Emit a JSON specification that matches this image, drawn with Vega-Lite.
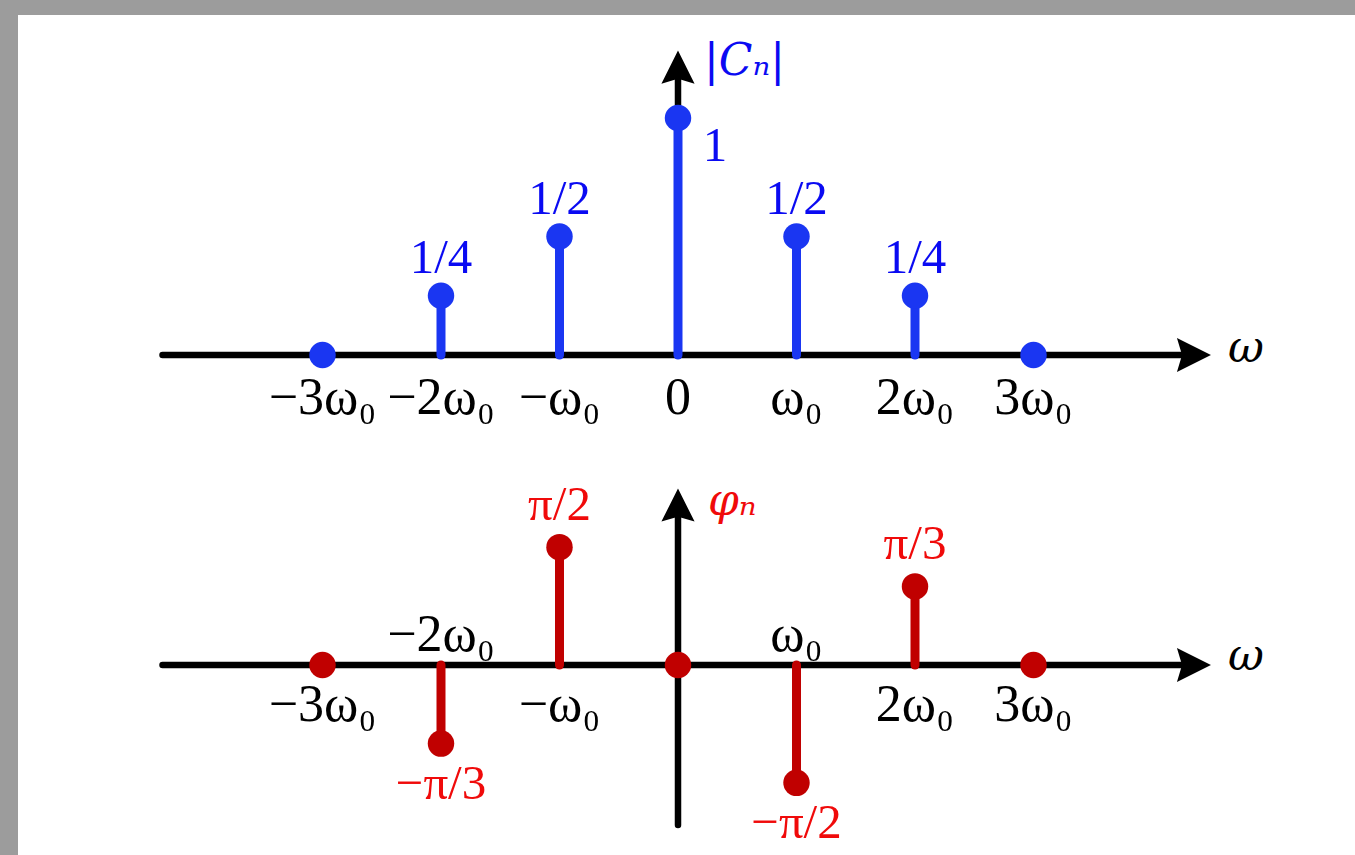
{
  "$schema": "https://vega.github.io/schema/vega-lite/v6.json",
  "width": 1355,
  "height": 855,
  "autosize": {"type": "fit", "contains": "padding"},
  "padding": {"left": 18, "top": 15, "right": 0, "bottom": 0},
  "background": "#9c9c9c",
  "config": {
    "view": {"fill": "white", "stroke": null},
    "text": {"font": "Liberation Serif"}
  },
  "datasets": {
    "magnitude": [
      {"n": -3, "c": 0, "tick": "−3ω₀", "label": ""},
      {"n": -2, "c": 0.25, "tick": "−2ω₀", "label": "1/4"},
      {"n": -1, "c": 0.5, "tick": "−ω₀", "label": "1/2"},
      {"n": 0, "c": 1, "tick": "0", "label": "1"},
      {"n": 1, "c": 0.5, "tick": "ω₀", "label": "1/2"},
      {"n": 2, "c": 0.25, "tick": "2ω₀", "label": "1/4"},
      {"n": 3, "c": 0, "tick": "3ω₀", "label": ""}
    ],
    "phase": [
      {"n": -3, "phi": 0, "tick": "−3ω₀", "label": ""},
      {"n": -2, "phi": -1.0472, "tick": "−2ω₀", "label": "−π/3"},
      {"n": -1, "phi": 1.5708, "tick": "−ω₀", "label": "π/2"},
      {"n": 0, "phi": 0, "tick": "", "label": ""},
      {"n": 1, "phi": -1.5708, "tick": "ω₀", "label": "−π/2"},
      {"n": 2, "phi": 1.0472, "tick": "2ω₀", "label": "π/3"},
      {"n": 3, "phi": 0, "tick": "3ω₀", "label": ""}
    ],
    "magAxes": [
      {"x": -4.35, "x2": 4.354, "y": 0, "y2": 0, "dir": "right", "name": "ω"},
      {"x": 0, "x2": 0, "y": 0, "y2": 1.215, "dir": "up", "name": "|Cₙ|"}
    ],
    "phaseAxes": [
      {"x": -4.35, "x2": 4.354, "y": 0, "y2": 0, "dir": "right", "name": "ω"},
      {"x": 0, "x2": 0, "y": -2.133, "y2": 2.133, "dir": "up", "name": "φₙ"}
    ]
  },
  "layer": [
    {
      "layer": [
        {
          "data": {"name": "magAxes"},
          "mark": {"type": "rule", "color": "black", "strokeWidth": 6.5, "strokeCap": "round"},
          "encoding": {
            "x": {"field": "x", "type": "quantitative", "scale": {"domain": [-5.5696, 5.7131], "nice": false, "zero": false}, "axis": null},
            "x2": {"field": "x2"},
            "y": {"field": "y", "type": "quantitative", "scale": {"domain": [-2.1097, 1.4346], "nice": false, "zero": false}, "axis": null},
            "y2": {"field": "y2"}
          }
        },
        {
          "data": {"name": "magAxes"},
          "transform": [{"filter": "datum.dir == 'right'"}],
          "mark": {"type": "point", "shape": "M1,0L-1,1L-0.7,0L-1,-1Z", "filled": true, "size": 1156, "color": "black", "opacity": 1},
          "encoding": {
            "x": {"field": "x2", "type": "quantitative", "axis": null},
            "y": {"field": "y2", "type": "quantitative", "axis": null}
          }
        },
        {
          "data": {"name": "magAxes"},
          "transform": [{"filter": "datum.dir == 'up'"}],
          "mark": {"type": "point", "shape": "M0,-1L1,1L0,0.7L-1,1Z", "filled": true, "size": 1100, "color": "black", "opacity": 1},
          "encoding": {
            "x": {"field": "x2", "type": "quantitative", "axis": null},
            "y": {"field": "y2", "type": "quantitative", "axis": null}
          }
        },
        {
          "data": {"name": "magAxes"},
          "transform": [{"filter": "datum.dir == 'right'"}],
          "mark": {"type": "text", "font": "DejaVu Serif", "fontSize": 44, "fontStyle": "italic", "color": "black", "align": "center", "baseline": "middle", "dx": 52, "dy": -6},
          "encoding": {
            "x": {"field": "x2", "type": "quantitative", "axis": null},
            "y": {"field": "y2", "type": "quantitative", "axis": null},
            "text": {"field": "name"}
          }
        },
        {
          "data": {"name": "magAxes"},
          "transform": [{"filter": "datum.dir == 'up'"}],
          "mark": {"type": "text", "font": "DejaVu Serif", "fontSize": 44, "fontStyle": "italic", "color": "#0a0af2", "align": "left", "baseline": "middle", "dx": 26, "dy": -5},
          "encoding": {
            "x": {"field": "x2", "type": "quantitative", "axis": null},
            "y": {"field": "y2", "type": "quantitative", "axis": null},
            "text": {"field": "name"}
          }
        },
        {
          "data": {"name": "magnitude"},
          "mark": {"type": "rule", "color": "#1a36f2", "strokeWidth": 9, "strokeCap": "round"},
          "encoding": {
            "x": {"field": "n", "type": "quantitative", "axis": null},
            "y": {"field": "c", "type": "quantitative", "axis": null},
            "y2": {"datum": 0}
          }
        },
        {
          "data": {"name": "magnitude"},
          "mark": {"type": "circle", "color": "#1a36f2", "size": 700, "opacity": 1},
          "encoding": {
            "x": {"field": "n", "type": "quantitative", "axis": null},
            "y": {"field": "c", "type": "quantitative", "axis": null}
          }
        },
        {
          "data": {"name": "magnitude"},
          "mark": {"type": "text", "fontSize": 52, "color": "black", "align": "center", "baseline": "middle", "dy": 43},
          "encoding": {
            "x": {"field": "n", "type": "quantitative", "axis": null},
            "y": {"datum": 0, "type": "quantitative", "axis": null},
            "text": {"field": "tick"}
          }
        },
        {
          "data": {"name": "magnitude"},
          "transform": [{"filter": "datum.n != 0"}],
          "mark": {"type": "text", "fontSize": 49, "color": "#0a0af2", "align": "center", "baseline": "middle", "dy": -38},
          "encoding": {
            "x": {"field": "n", "type": "quantitative", "axis": null},
            "y": {"field": "c", "type": "quantitative", "axis": null},
            "text": {"field": "label"}
          }
        },
        {
          "data": {"name": "magnitude"},
          "transform": [{"filter": "datum.n == 0"}],
          "mark": {"type": "text", "fontSize": 49, "color": "#0a0af2", "align": "center", "baseline": "middle", "dx": 37, "dy": 28},
          "encoding": {
            "x": {"field": "n", "type": "quantitative", "axis": null},
            "y": {"field": "c", "type": "quantitative", "axis": null},
            "text": {"field": "label"}
          }
        }
      ]
    },
    {
      "layer": [
        {
          "data": {"name": "phaseAxes"},
          "mark": {"type": "rule", "color": "black", "strokeWidth": 6.5, "strokeCap": "round"},
          "encoding": {
            "x": {"field": "x", "type": "quantitative", "scale": {"domain": [-5.5696, 5.7131], "nice": false, "zero": false}, "axis": null},
            "x2": {"field": "x2"},
            "y": {"field": "y", "type": "quantitative", "scale": {"domain": [-2.5333, 8.6667], "nice": false, "zero": false}, "axis": null},
            "y2": {"field": "y2"}
          }
        },
        {
          "data": {"name": "phaseAxes"},
          "transform": [{"filter": "datum.dir == 'right'"}],
          "mark": {"type": "point", "shape": "M1,0L-1,1L-0.7,0L-1,-1Z", "filled": true, "size": 1156, "color": "black", "opacity": 1},
          "encoding": {
            "x": {"field": "x2", "type": "quantitative", "axis": null},
            "y": {"field": "y2", "type": "quantitative", "axis": null}
          }
        },
        {
          "data": {"name": "phaseAxes"},
          "transform": [{"filter": "datum.dir == 'up'"}],
          "mark": {"type": "point", "shape": "M0,-1L1,1L0,0.7L-1,1Z", "filled": true, "size": 1100, "color": "black", "opacity": 1},
          "encoding": {
            "x": {"field": "x2", "type": "quantitative", "axis": null},
            "y": {"field": "y2", "type": "quantitative", "axis": null}
          }
        },
        {
          "data": {"name": "phaseAxes"},
          "transform": [{"filter": "datum.dir == 'right'"}],
          "mark": {"type": "text", "font": "DejaVu Serif", "fontSize": 44, "fontStyle": "italic", "color": "black", "align": "center", "baseline": "middle", "dx": 52, "dy": -8},
          "encoding": {
            "x": {"field": "x2", "type": "quantitative", "axis": null},
            "y": {"field": "y2", "type": "quantitative", "axis": null},
            "text": {"field": "name"}
          }
        },
        {
          "data": {"name": "phaseAxes"},
          "transform": [{"filter": "datum.dir == 'up'"}],
          "mark": {"type": "text", "font": "DejaVu Serif", "fontSize": 44, "fontStyle": "italic", "color": "#f00a0a", "align": "left", "baseline": "middle", "dx": 30, "dy": -3},
          "encoding": {
            "x": {"field": "x2", "type": "quantitative", "axis": null},
            "y": {"field": "y2", "type": "quantitative", "axis": null},
            "text": {"field": "name"}
          }
        },
        {
          "data": {"name": "phase"},
          "mark": {"type": "rule", "color": "#c00000", "strokeWidth": 9, "strokeCap": "round"},
          "encoding": {
            "x": {"field": "n", "type": "quantitative", "axis": null},
            "y": {"field": "phi", "type": "quantitative", "axis": null},
            "y2": {"datum": 0}
          }
        },
        {
          "data": {"name": "phase"},
          "mark": {"type": "circle", "color": "#c00000", "size": 700, "opacity": 1},
          "encoding": {
            "x": {"field": "n", "type": "quantitative", "axis": null},
            "y": {"field": "phi", "type": "quantitative", "axis": null}
          }
        },
        {
          "data": {"name": "phase"},
          "transform": [{"filter": "datum.phi >= 0"}],
          "mark": {"type": "text", "fontSize": 52, "color": "black", "align": "center", "baseline": "middle", "dy": 40},
          "encoding": {
            "x": {"field": "n", "type": "quantitative", "axis": null},
            "y": {"datum": 0, "type": "quantitative", "axis": null},
            "text": {"field": "tick"}
          }
        },
        {
          "data": {"name": "phase"},
          "transform": [{"filter": "datum.phi < 0"}],
          "mark": {"type": "text", "fontSize": 52, "color": "black", "align": "center", "baseline": "middle", "dy": -30},
          "encoding": {
            "x": {"field": "n", "type": "quantitative", "axis": null},
            "y": {"datum": 0, "type": "quantitative", "axis": null},
            "text": {"field": "tick"}
          }
        },
        {
          "data": {"name": "phase"},
          "transform": [{"filter": "datum.phi > 0"}],
          "mark": {"type": "text", "fontSize": 49, "color": "#f00a0a", "align": "center", "baseline": "middle", "dy": -42},
          "encoding": {
            "x": {"field": "n", "type": "quantitative", "axis": null},
            "y": {"field": "phi", "type": "quantitative", "axis": null},
            "text": {"field": "label"}
          }
        },
        {
          "data": {"name": "phase"},
          "transform": [{"filter": "datum.phi < 0"}],
          "mark": {"type": "text", "fontSize": 49, "color": "#f00a0a", "align": "center", "baseline": "middle", "dy": 40},
          "encoding": {
            "x": {"field": "n", "type": "quantitative", "axis": null},
            "y": {"field": "phi", "type": "quantitative", "axis": null},
            "text": {"field": "label"}
          }
        }
      ]
    }
  ],
  "resolve": {"scale": {"y": "independent"}}
}
